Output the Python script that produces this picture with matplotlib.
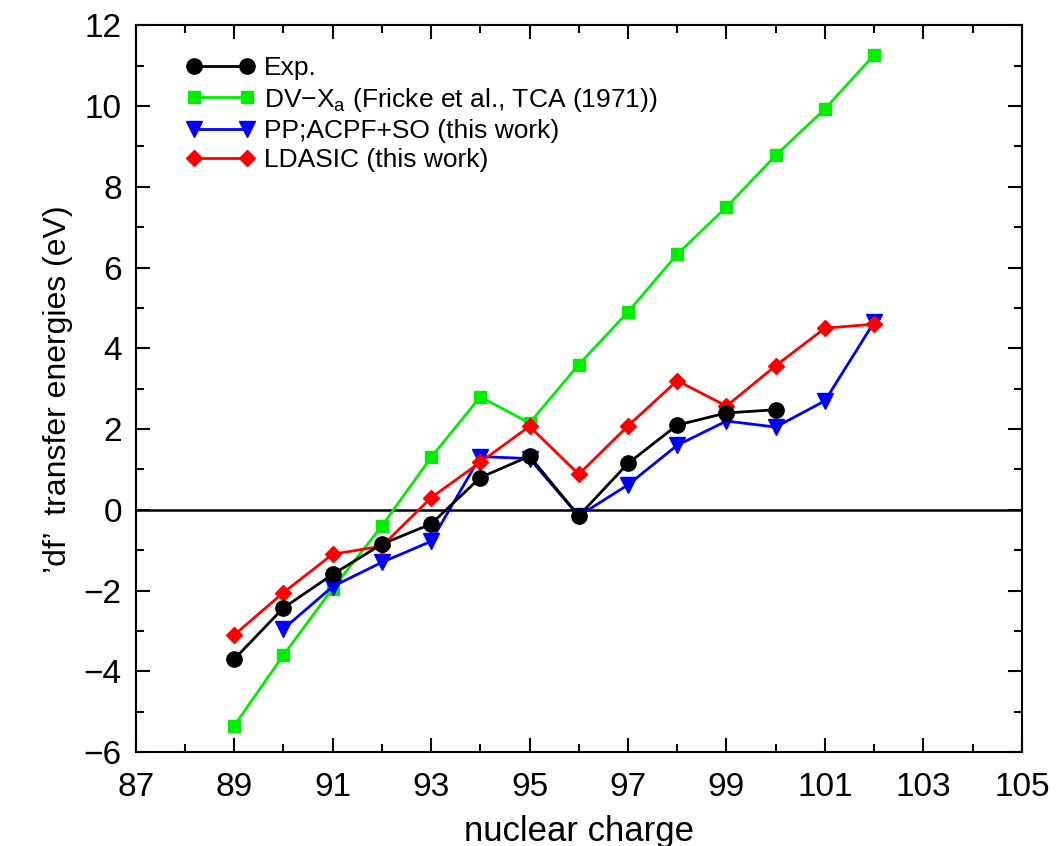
import matplotlib.pyplot as plt
import numpy as np

plt.rcParams['font.family'] = ['Liberation Sans', 'DejaVu Sans']
plt.rcParams['mathtext.fontset'] = 'custom'
plt.rcParams['mathtext.rm'] = 'Liberation Sans'

# data
z_exp = [89, 90, 91, 92, 93, 94, 95, 96, 97, 98, 99, 100]
e_exp = [-3.7, -2.43, -1.6, -0.85, -0.35, 0.8, 1.33, -0.15, 1.15, 2.1, 2.4, 2.48]

z_dv = [89, 90, 91, 92, 93, 94, 95, 96, 97, 98, 99, 100, 101, 102]
e_dv = [-5.35, -3.6, -1.95, -0.4, 1.3, 2.8, 2.15, 3.6, 4.9, 6.33, 7.5, 8.78, 9.93, 11.27]

z_pp = [90, 91, 92, 93, 94, 95, 96, 97, 98, 99, 100, 101, 102]
e_pp = [-2.95, -1.9, -1.3, -0.78, 1.32, 1.27, -0.15, 0.62, 1.6, 2.2, 2.05, 2.7, 4.65]

z_lda = [89, 90, 91, 92, 93, 94, 95, 96, 97, 98, 99, 100, 101, 102]
e_lda = [-3.1, -2.05, -1.1, -0.9, 0.3, 1.18, 2.07, 0.88, 2.08, 3.2, 2.57, 3.57, 4.5, 4.6]

fig = plt.figure(figsize=(10.6, 8.46), dpi=100)
ax = fig.add_axes([0.128, 0.111, 0.836, 0.859])

ax.axhline(0, color='black', lw=1.8, zorder=1)

ax.plot(z_exp, e_exp, '-o', color='black', lw=2, ms=11, label='Exp.', zorder=5)
ax.plot(z_dv, e_dv, '-s', color='#00ee00', mfc='#00ee00', lw=2, ms=9,
        label='DV$-$X$_{\\mathrm{a}}$ (Fricke et al., TCA (1971))', zorder=3)
ax.plot(z_pp, e_pp, '-v', color='blue', lw=2, ms=11, label='PP;ACPF+SO (this work)', zorder=4)
ax.plot(z_lda, e_lda, '-D', color='red', lw=2, ms=8, label='LDASIC (this work)', zorder=4)

ax.set_xlim(87, 105)
ax.set_ylim(-6, 12)
ax.set_xticks(np.arange(87, 106, 2))
ax.set_xticks(np.arange(87, 106, 1), minor=True)
ax.set_yticks(np.arange(-6, 13, 2))
ax.set_yticks(np.arange(-6, 13, 1), minor=True)
ax.set_yticklabels(['\u22126', '\u22124', '\u22122', '0', '2', '4', '6', '8', '10', '12'])
ax.tick_params(which='both', direction='in', top=True, right=True, width=1.5)
ax.tick_params(which='major', length=10, labelsize=24)
ax.tick_params(axis='x', which='major', pad=14)
ax.tick_params(axis='y', which='major', pad=10)
ax.tick_params(which='minor', length=6)
for s in ax.spines.values():
    s.set_linewidth(1.5)

ax.set_xlabel('nuclear charge', fontsize=25, labelpad=9)
ax.set_ylabel("\u2019df\u2019  transfer energies (eV)", fontsize=23, labelpad=8)

ax.legend(loc='upper left', bbox_to_anchor=(0.03, 0.99), frameon=False, fontsize=19,
          numpoints=2, handlelength=2.6, handletextpad=0.35, labelspacing=0.2)

fig.savefig('out.png', dpi=100)
